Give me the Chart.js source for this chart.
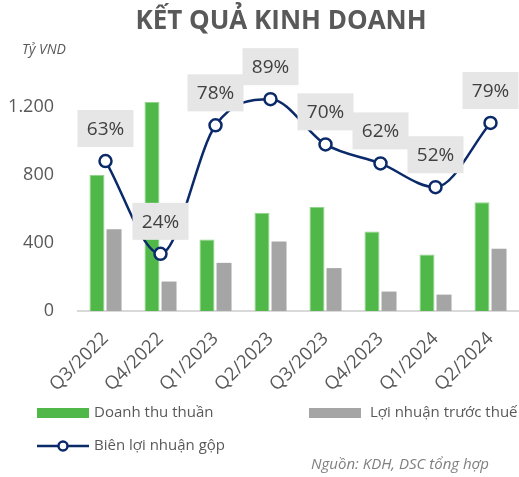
<!DOCTYPE html>
<html>
<head>
<meta charset="utf-8">
<script src="https://cdn.jsdelivr.net/npm/chart.js@4.4.0/dist/chart.umd.min.js"></script>
<style>
  html, body { margin: 0; padding: 0; background: #fff; }
  #wrap { width: 519px; height: 477px; position: relative; }
</style>
</head>
<body>
<div id="wrap"><canvas id="chartKQ" width="519" height="477"></canvas></div>
<script>
const quarters = ['Q3/2022', 'Q4/2022', 'Q1/2023', 'Q2/2023', 'Q3/2023', 'Q4/2023', 'Q1/2024', 'Q2/2024']
const doanhThu = [800, 1230, 420, 578, 612, 468, 332, 640]
const loiNhuan = [480, 173, 283, 408, 252, 114, 96, 366]
const bienLN = [63, 24, 78, 89, 70, 62, 52, 79]
const yTicks = [0, 400, 800, 1200]

const navy = '#0b2a6a'
const green = '#50b848'
const gray = '#a5a5a5'
const textGray = '#595959'

const ctx = document.getElementById('chartKQ')

// labels with grey boxes above the line points
const pctLabels = {
  id: 'pctLabels',
  afterDatasetsDraw(chart) {
    const c = chart.ctx
    const meta = chart.getDatasetMeta(0)
    c.save()
    c.font = '19px "Open Sans"'
    c.textAlign = 'center'
    c.textBaseline = 'middle'
    meta.data.forEach((pt, i) => {
      const w = 56, h = 37
      const x = pt.x, bottom = pt.y - 14
      c.fillStyle = '#e7e6e6'
      c.fillRect(x - w / 2, bottom - h, w, h)
      c.fillStyle = '#404040'
      c.fillText(bienLN[i] + '%', x, bottom - h / 2 + 1)
    })
    c.restore()
  }
}

// title, unit, legend and source
const extras = {
  id: 'extras',
  afterDraw(chart) {
    const c = chart.ctx
    c.save()
    c.fillStyle = textGray
    c.textBaseline = 'middle'
    c.textAlign = 'center'
    c.font = 'bold 26px "Open Sans"'
    c.fillText('KẾT QUẢ KINH DOANH', 281, 22)
    c.textAlign = 'left'
    c.font = 'italic 14px "Open Sans"'
    c.fillText('Tỷ VND', 22, 50)

    const ds = chart.data.datasets
    c.font = '15px "Open Sans"'
    // bars
    c.fillStyle = ds[1].backgroundColor
    c.fillRect(37, 408, 52, 10)
    c.fillStyle = textGray
    c.fillText(ds[1].label, 94, 413)
    c.fillStyle = ds[2].backgroundColor
    c.fillRect(309, 408, 52, 10)
    c.fillStyle = textGray
    c.fillText(ds[2].label, 370, 413)
    // line
    c.strokeStyle = ds[0].borderColor
    c.lineWidth = 2.5
    c.beginPath()
    c.moveTo(37, 446)
    c.lineTo(89, 446)
    c.stroke()
    c.beginPath()
    c.arc(63, 446, 4.5, 0, Math.PI * 2)
    c.fillStyle = '#fff'
    c.fill()
    c.stroke()
    c.fillStyle = textGray
    c.fillText(ds[0].label, 94, 446)

    c.font = 'italic 15px "Open Sans"'
    c.fillStyle = '#7f7f7f'
    c.fillText('Nguồn: KDH, DSC tổng hợp', 311, 465)
    c.restore()
  }
}

const chartKQ = new Chart(ctx, {
  type: 'bar',
  data: {
    labels: quarters,
    datasets: [{
      type: 'line',
      label: 'Biên lợi nhuận gộp',
      data: bienLN,
      yAxisID: 'y1',
      borderColor: navy,
      borderWidth: 2.5,
      backgroundColor: '#fff',
      pointBackgroundColor: '#fff',
      pointBorderColor: navy,
      pointBorderWidth: 2.5,
      pointRadius: 6,
      tension: 0.4,
      cubicInterpolationMode: 'monotone',
      order: 0
    },
    {
      label: 'Doanh thu thuần',
      data: doanhThu,
      backgroundColor: green,
      borderColor: '#8fd48a',
      borderWidth: { left: 1, right: 1, top: 1, bottom: 0 },
      barPercentage: 0.88,
      categoryPercentage: 0.62,
      order: 1
    },
    {
      label: 'Lợi nhuận trước thuế',
      data: loiNhuan,
      backgroundColor: gray,
      barPercentage: 0.88,
      categoryPercentage: 0.62,
      order: 1
    }]
  },
  options: {
    responsive: false,
    animation: false,
    devicePixelRatio: 1,
    layout: {
      autoPadding: false,
      padding: { top: 73, left: 7, right: 1, bottom: 64 }
    },
    plugins: {
      legend: { display: false },
      title: { display: false },
      tooltip: { enabled: false }
    },
    scales: {
      x: {
        grid: { display: false, drawTicks: false },
        border: { display: true, color: '#d9d9d9', width: 2 },
        ticks: {
          color: textGray,
          font: { family: 'Open Sans', size: 18.5 },
          minRotation: 45,
          maxRotation: 45,
          padding: 17
        },
        afterFit: (axis) => {
          axis.paddingLeft = 0
          axis.paddingRight = 0
        }
      },
      y: {
        min: 0,
        max: 1400,
        grid: { display: false, drawTicks: false },
        border: { display: false },
        afterBuildTicks: (axis) => {
          axis.ticks = yTicks.map(v => ({ value: v }))
        },
        afterFit: (axis) => {
          axis.width = 71
        },
        ticks: {
          color: textGray,
          padding: 24,
          font: { family: 'Open Sans', size: 18 },
          callback: (v) => v.toLocaleString('de-DE')
        }
      },
      y1: {
        display: false,
        min: 0,
        max: 100
      }
    }
  },
  plugins: [pctLabels, extras]
})
</script>
</body>
</html>
